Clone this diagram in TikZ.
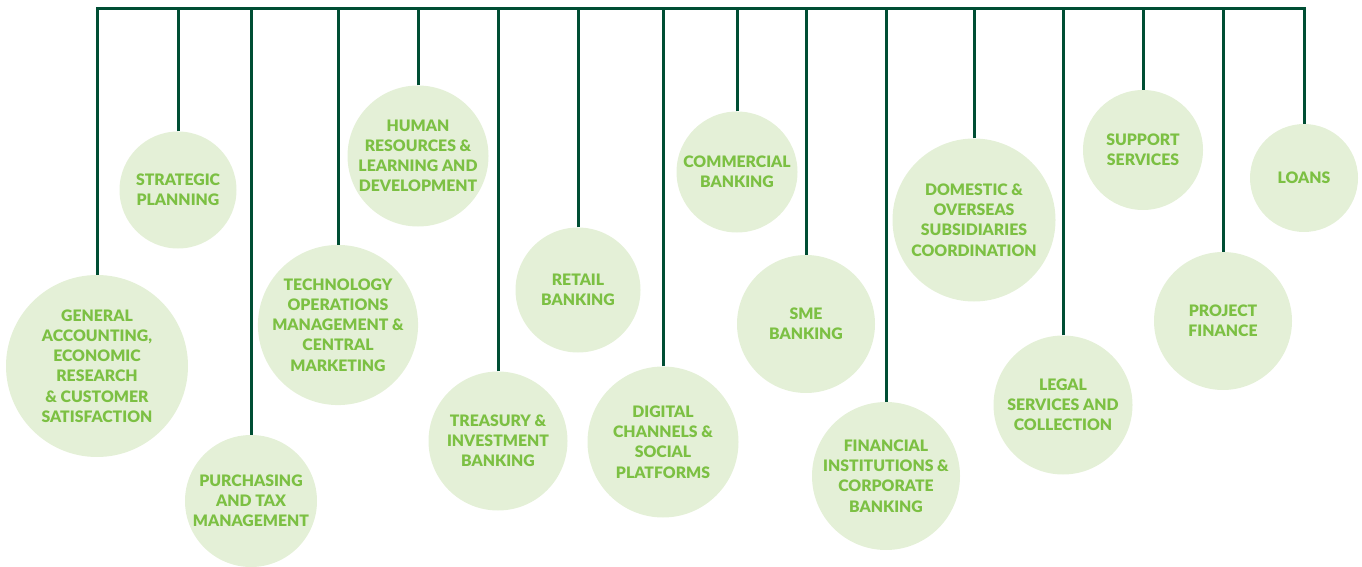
\documentclass[tikz,border=0pt]{standalone}
\usepackage{fontspec}
\setmainfont{Lato}[BoldFont={Lato Black}]
\definecolor{linegreen}{RGB}{0,78,52}
\definecolor{bubfill}{RGB}{228,240,215}
\definecolor{txtgreen}{RGB}{124,192,67}
\tikzset{
  bub/.style={circle, fill=bubfill, inner sep=0pt, text=txtgreen, align=center,
    font=\fontsize{15.8}{20.2}\selectfont\bfseries},
  conn/.style={draw=linegreen, line width=3pt}
}
\begin{document}
\begin{tikzpicture}[x=1pt,y=-1pt]
\useasboundingbox (0,0) rectangle (1362,567);
\coordinate (bar) at (0,9);
\node[bub, minimum size=182pt] (ga) at (97,366) {GENERAL\\ACCOUNTING,\\ECONOMIC\\RESEARCH\\\& CUSTOMER\\SATISFACTION};
\node[bub, minimum size=117pt] (sp) at (178,190) {STRATEGIC\\PLANNING};
\node[bub, minimum size=132pt] (pu) at (251,501) {PURCHASING\\AND TAX\\MANAGEMENT};
\node[bub, minimum size=157pt] (te) at (338,325) {TECHNOLOGY\\OPERATIONS\\MANAGEMENT \&\\CENTRAL\\MARKETING};
\node[bub, minimum size=141pt] (hr) at (418,156) {HUMAN\\RESOURCES \&\\LEARNING AND\\DEVELOPMENT};
\node[bub, minimum size=139pt] (tr) at (498,441) {TREASURY \&\\INVESTMENT\\BANKING};
\node[bub, minimum size=125pt] (re) at (578,290) {RETAIL\\BANKING};
\node[bub, minimum size=151pt] (di) at (663,442) {DIGITAL\\CHANNELS \&\\SOCIAL\\PLATFORMS};
\node[bub, minimum size=121pt] (co) at (737,172) {COMMERCIAL\\BANKING};
\node[bub, minimum size=138pt] (sm) at (806,324) {SME\\BANKING};
\node[bub, minimum size=148pt] (fi) at (886,476) {FINANCIAL\\INSTITUTIONS \&\\CORPORATE\\BANKING};
\node[bub, minimum size=163pt] (do) at (974,220) {DOMESTIC \&\\OVERSEAS\\SUBSIDIARIES\\COORDINATION};
\node[bub, minimum size=139pt] (le) at (1063,405) {LEGAL\\SERVICES AND\\COLLECTION};
\node[bub, minimum size=120pt] (su) at (1143,150) {SUPPORT\\SERVICES};
\node[bub, minimum size=138pt] (pr) at (1223,321) {PROJECT\\FINANCE};
\node[bub, minimum size=108pt] (lo) at (1304,178) {LOANS};
\draw[conn] (ga.north) -- (ga.north |- bar) -- (lo.north |- bar) -- (lo.north);
\foreach \n in {sp,pu,te,hr,tr,re,di,co,sm,fi,do,le,su,pr}
  \draw[conn] (\n.north) -- (\n.north |- bar);
\end{tikzpicture}
\end{document}
